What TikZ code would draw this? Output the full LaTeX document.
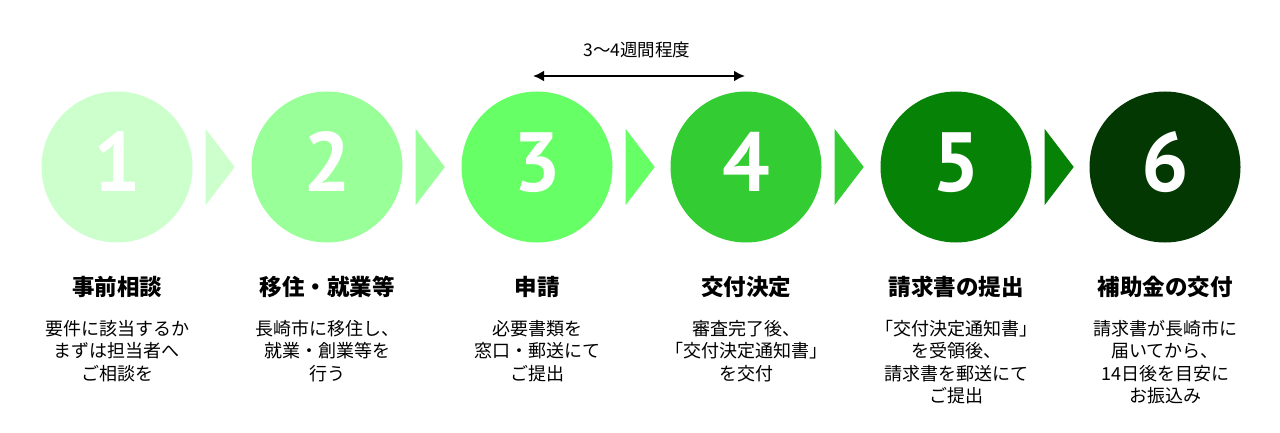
\documentclass[tikz,border=0pt]{standalone}
\usepackage{fontspec}
\setmainfont{Noto Sans CJK JP}
\newfontfamily\numfont{PT Sans}
\usetikzlibrary{arrows.meta}

\definecolor{stepA}{HTML}{CCFFCC}
\definecolor{stepB}{HTML}{99FF99}
\definecolor{stepC}{HTML}{66FF66}
\definecolor{stepD}{HTML}{33CC33}
\definecolor{stepE}{HTML}{068206}
\definecolor{stepF}{HTML}{033803}

\begin{document}
\begin{tikzpicture}[x=1pt,y=-1pt,
   numcirc/.style={circle,minimum size=151pt,inner sep=0pt,text=white,text depth=10pt,font=\numfont\fontsize{84}{84}\selectfont\bfseries},
   steptitle/.style={inner sep=0pt,font=\fontsize{22.5}{26}\selectfont\bfseries},
   stepdesc/.style={anchor=north,inner sep=0pt,align=center,font=\fontsize{18}{22.5}\selectfont},
]

   \useasboundingbox[fill=white] (0,0) rectangle (1280,433);

   \foreach \n/\x/\col in {1/117/stepA,2/327/stepB,3/537/stepC,4/746/stepD,5/956/stepE,6/1165/stepF} {
      \node[numcirc,fill=\col] (c\n) at (\x,167) {\n};
   }
   
   \foreach \n/\col in {1/stepA,2/stepB,3/stepC,4/stepD,5/stepE} {
      \fill[\col] ([xshift=13pt,yshift=38pt]c\n.east) -- ++(29,38) -- ++(-29,38) -- cycle;
   }
   
   \foreach \n/\x/\txt in {1/117/事前相談,2/327/移住・就業等,3/537/申請,4/746/交付決定,5/956/請求書の提出,6/1165/補助金の交付} {
      \node[steptitle] (t\n) at (\x,287) {\txt};
   }
   
   \foreach \n/\x/\txt in {1/117/{要件に該当するか\\まずは担当者へ\\ご相談を},
                          2/327/{長崎市に移住し、\\就業・創業等を\\行う},
                          3/537/{必要書類を\\窓口・郵送にて\\ご提出},
                          4/746/{審査完了後、\\「交付決定通知書」\\を交付},
                          5/956/{「交付決定通知書」\\を受領後、\\請求書を郵送にて\\ご提出},
                          6/1165/{請求書が長崎市に\\届いてから、\\14日後を目安に\\お振込み}} {
      \node[stepdesc] (d\n) at (\x,320) {\txt};
   }
   
   \coordinate (span-l) at (533,76);
   \coordinate (span-r) at (745,76);
   \draw[line width=2.5pt,{Latex[length=11pt,width=11pt]}-{Latex[length=11pt,width=11pt]}] (span-l) -- (span-r);
   \node[font=\fontsize{17.5}{20}\selectfont] (span-text) at (637,50) {3～4週間程度};

\end{tikzpicture}
\end{document}
